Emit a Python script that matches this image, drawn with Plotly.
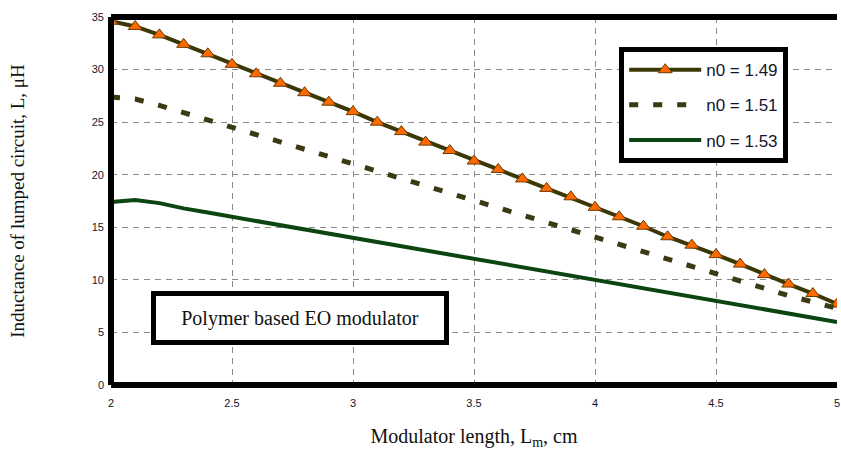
import plotly.graph_objects as go

x_vals = [round(2.0 + 0.1 * i, 1) for i in range(31)]

L_149 = [34.6, 34.1, 33.3, 32.4, 31.5, 30.5, 29.6, 28.7, 27.8, 26.9,
         26.0, 25.0, 24.1, 23.1, 22.3, 21.3, 20.5, 19.6, 18.7, 17.9,
         16.9, 16.0, 15.1, 14.1, 13.3, 12.4, 11.5, 10.5, 9.6, 8.7, 7.7]
L_151 = [27.4, 27.2, 26.6, 25.9, 25.2, 24.5, 23.8, 23.1, 22.4, 21.7,
         21.0, 20.3, 19.6, 18.9, 18.2, 17.5, 16.8, 16.1, 15.4, 14.7,
         14.0, 13.3, 12.6, 11.9, 11.2, 10.5, 9.9, 9.2, 8.5, 7.9, 7.3]
L_153 = [17.4, 17.6, 17.3, 16.8, 16.4, 16.0, 15.6, 15.2, 14.8, 14.4,
         14.0, 13.6, 13.2, 12.8, 12.4, 12.0, 11.6, 11.2, 10.8, 10.4,
         10.0, 9.6, 9.2, 8.8, 8.4, 8.0, 7.6, 7.2, 6.8, 6.4, 6.0]

series_names = ["n0 = 1.49", "n0 = 1.51", "n0 = 1.53"]
x_ticks = [2, 2.5, 3, 3.5, 4, 4.5, 5]
x_tick_text = ["2", "2.5", "3", "3.5", "4", "4.5", "5"]
y_ticks = [0, 5, 10, 15, 20, 25, 30, 35]

fig = go.Figure()
fig.add_trace(go.Scatter(
    x=x_vals, y=L_149, name=series_names[0], mode="lines+markers",
    legendgroup="a",
    line=dict(color="#3b3805", width=4),
    marker=dict(symbol="triangle-up", size=12, color="#ff6a00",
                line=dict(color="#6b3a00", width=1)),
))
fig.add_trace(go.Scatter(
    x=x_vals, y=L_151, name=series_names[1], mode="lines",
    legendgroup="b",
    line=dict(color="#3b3a12", width=5, dash="9px,15px"),
))
fig.add_trace(go.Scatter(
    x=x_vals, y=L_153, name=series_names[2], mode="lines",
    legendgroup="c",
    line=dict(color="#0b4512", width=4),
))

grid_style = dict(showgrid=True, gridcolor="#8a8a8a", griddash="6px,5px", gridwidth=1)

fig.update_xaxes(
    range=[2, 5], tickvals=x_ticks, ticktext=x_tick_text,
    tickfont=dict(family="Liberation Sans, Arial", size=11, color="#151530"),
    ticks="", zeroline=False, showline=False, ticklabelstandoff=10,
    ticklabeloverflow="allow",
    title=dict(text="Modulator length, L<sub>m</sub>, cm",
               font=dict(family="Liberation Serif, Times New Roman", size=20, color="#111"),
               standoff=20),
    **grid_style,
)
fig.update_yaxes(
    range=[0, 35], tickvals=y_ticks,
    tickfont=dict(family="Liberation Sans, Arial", size=11, color="#151530"),
    ticks="", zeroline=False, showline=False, ticklabelstandoff=6,
    ticklabeloverflow="allow",
    title=dict(text="Inductance of lumped circuit, L, μH",
               font=dict(family="Liberation Serif, Times New Roman", size=19, color="#111"),
               standoff=62),
    **grid_style,
)

# thick frame on top, left, bottom
frame = dict(type="line", xref="paper", yref="paper", line=dict(color="black", width=6))
fig.add_shape(x0=0, x1=1, y0=1, y1=1, **frame)
fig.add_shape(x0=0, x1=0, y0=0, y1=1, **frame)
fig.add_shape(x0=0, x1=1, y0=0, y1=0, **frame)

fig.add_annotation(
    x=2.78, y=6.4, xref="x", yref="y", text="Polymer based EO modulator",
    showarrow=False, bgcolor="white", bordercolor="black", borderwidth=5,
    borderpad=0, width=288, height=44,
    font=dict(family="Liberation Serif, Times New Roman", size=20, color="#111"),
)

fig.update_layout(
    width=841, height=462,
    margin=dict(l=111, r=1, t=17, b=77),
    paper_bgcolor="white", plot_bgcolor="white",
    showlegend=True,
    legend=dict(
        x=0.70, y=0.918, xanchor="left", yanchor="top",
        bgcolor="white", bordercolor="black", borderwidth=5,
        font=dict(family="Liberation Sans, Arial", size=17, color="#151530"),
        itemwidth=72, tracegroupgap=10,
    ),
)

fig.write_html("out.html")
